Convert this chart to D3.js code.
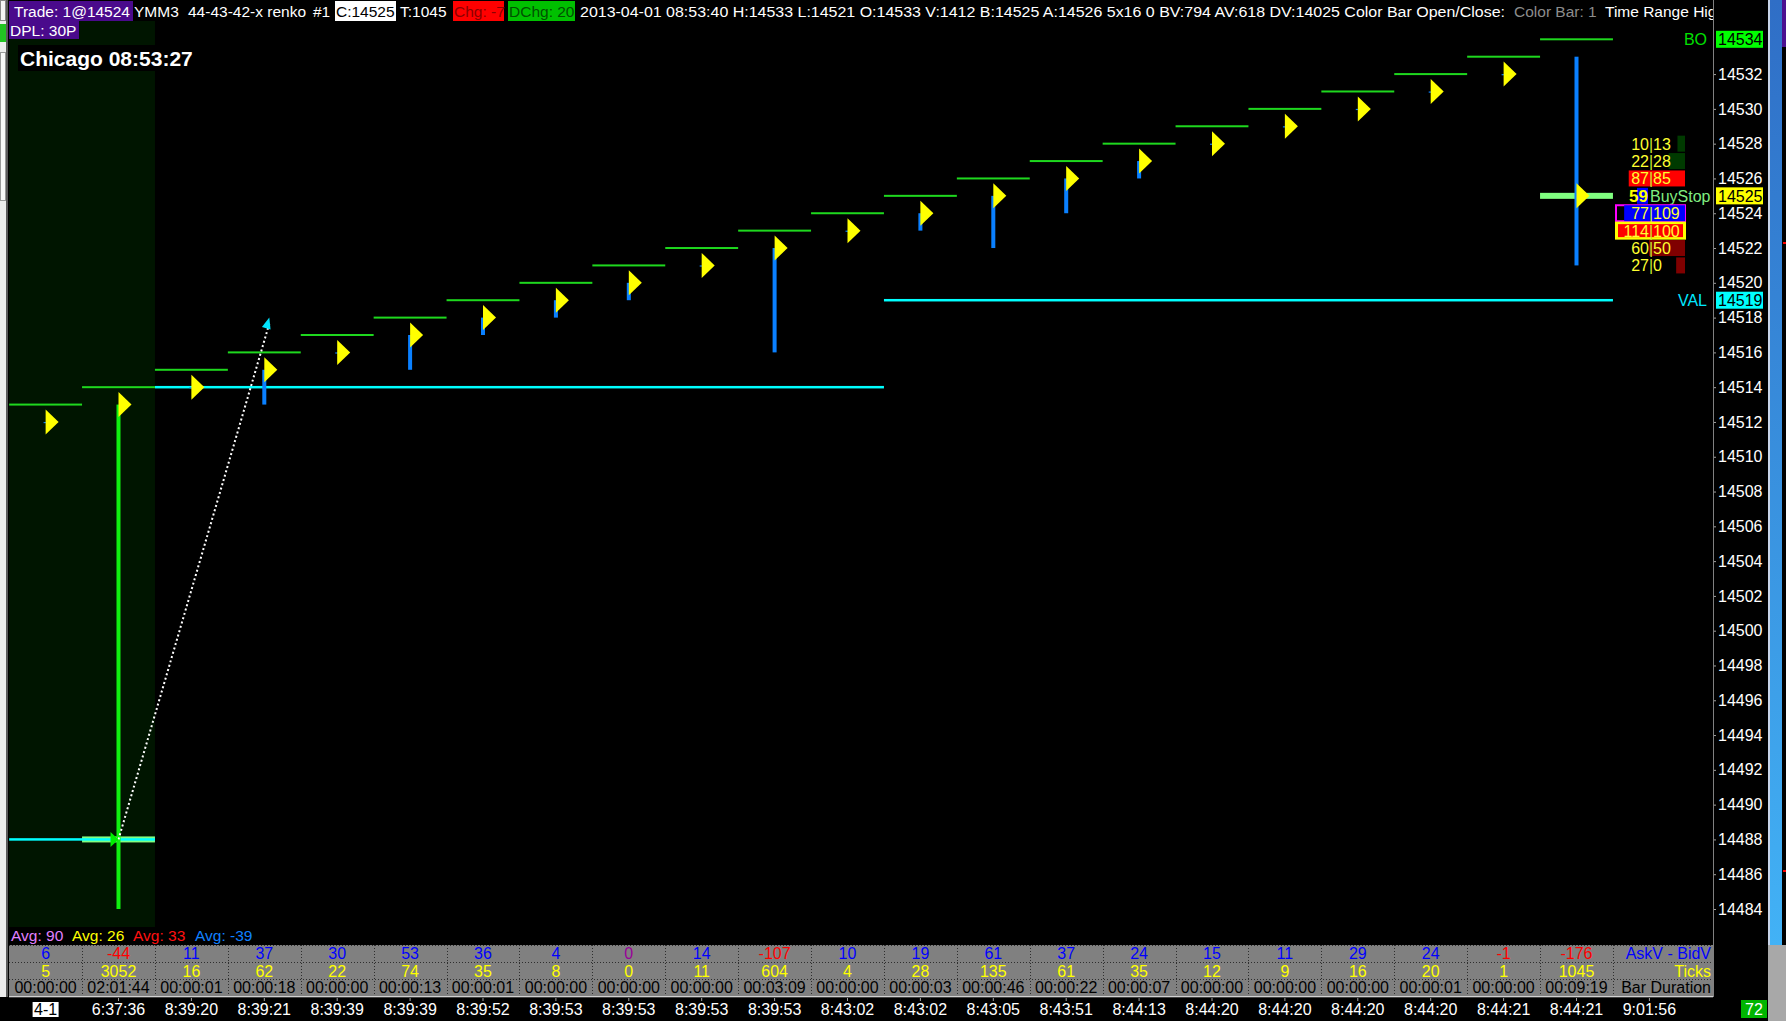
<!DOCTYPE html>
<html><head><meta charset="utf-8">
<script src="https://cdn.jsdelivr.net/npm/d3@7"></script>
<style>
html,body{margin:0;padding:0;background:#000;overflow:hidden}
svg{display:block}
text{font-family:"Liberation Sans",Arial,Helvetica,sans-serif}
</style></head>
<body><svg id="c" width="1786" height="1021"></svg>
<script>
// ---------------- DATA ----------------
const barLine   = [14513,14514,14515,14516,14517,14518,14519,14520,14521,14522,14523,14524,14525,14526,14527,14528,14529,14530,14531,14532,14533,14534];
const barClose  = [14512,14513,14514,14515,14516,14517,14518,14519,14520,14521,14522,14523,14524,14525,14526,14527,14528,14529,14530,14531,14532,14525];
const wickHigh  = [14512,14513,14514,14515,14516,14517,14518,14519,14520,14521,14522,14523,14524,14525,14526,14527,14528,14529,14530,14531,14532,14533];
const wickLow   = [14512,14484,14514,14513,14516,14515,14517,14518,14519,14521,14516,14523,14523,14522,14524,14526,14528,14529,14530,14531,14532,14521];
const sessionBar = 1;

const askBid    = [6,-44,11,37,30,53,36,4,0,14,-107,10,19,61,37,24,15,11,29,24,-1,-176];
const tickCount = [5,3052,16,62,22,74,35,8,0,11,604,4,28,135,61,35,12,9,16,20,1,1045];
const durations = ["00:00:00","02:01:44","00:00:01","00:00:18","00:00:00","00:00:13","00:00:01","00:00:00","00:00:00","00:00:00","00:03:09","00:00:00","00:00:03","00:00:46","00:00:22","00:00:07","00:00:00","00:00:00","00:00:00","00:00:01","00:00:00","00:09:19"];
const rowLabels = ["AskV - BidV","Ticks","Bar Duration"];
const timeLabels = ["4-1","6:37:36","8:39:20","8:39:21","8:39:39","8:39:39","8:39:52","8:39:53","8:39:53","8:39:53","8:39:53","8:43:02","8:43:02","8:43:05","8:43:51","8:44:13","8:44:20","8:44:20","8:44:20","8:44:20","8:44:21","8:44:21","9:01:56"];

const vaStart = [0,2,12];
const vaEnd   = [1,11,21];
const vaPrice = [14488,14514,14519];

const entryBars  = [1,21];
const entryPrice = [14488,14525];
const tradeFrom = {bar:1, price:14488};
const tradeTo   = {bar:3, price:14518};

const profilePrices = [14528,14527,14526,14525,14524,14523,14522,14521];
const profileBid    = [10,22,87,59,77,114,60,27];
const profileAsk    = [13,28,85,null,109,100,50,0];
const orderLabel = "BuyStop";

const yTicks = d3.range(14484, 14533, 2);
const priceMarks = [{label:"BO", price:14534},{label:"", price:14525},{label:"VAL", price:14519}];
const avgLabels = ["Avg: 90","Avg: 26","Avg: 33","Avg: -39"];

const headerTexts = ["Trade: 1@14524","YMM3","44-43-42-x renko","#1","C:14525","T:1045","Chg: -7","DChg: 20",
  "2013-04-01 08:53:40 H:14533 L:14521 O:14533 V:1412 B:14525 A:14526 5x16 0 BV:794 AV:618 DV:14025 Color Bar Open/Close:",
  "Color Bar: 1","Time Range High"];
const dplText = "DPL: 30P";
const clockText = "Chicago 08:53:27";
const cornerValue = "72";

// ---------------- LAYOUT ----------------
const svg = d3.select('#c');
const AX = 1713;
const x = d3.scaleBand().domain(d3.range(23)).range([9.15, 9.15 + 72.9*23]);
const bw = x.bandwidth();
const cx = i => x(i) + bw/2;
const y = d3.scaleLinear().domain([14484,14534]).range([909,39.3]);

const defs = svg.append('defs');
defs.append('clipPath').attr('id','plotclip').append('rect').attr('x',9).attr('y',0).attr('width',AX-9).attr('height',945);
defs.append('clipPath').attr('id','headclip').append('rect').attr('x',0).attr('y',0).attr('width',AX).attr('height',40);
const lg = defs.append('linearGradient').attr('id','sb').attr('x1',0).attr('y1',0).attr('x2',0).attr('y2',1);
lg.append('stop').attr('offset','0%').attr('stop-color','#2f6ec6');
lg.append('stop').attr('offset','100%').attr('stop-color','#42b2f6');

svg.append('rect').attr('width',1786).attr('height',1021).attr('fill','#000');

// left strip
svg.append('rect').attr('x',0).attr('y',0).attr('width',7).attr('height',997).attr('fill','#ececec');
svg.append('rect').attr('x',6).attr('y',0).attr('width',2).attr('height',997).attr('fill','#5a5a5a');
svg.append('rect').attr('x',0.5).attr('y',0.5).attr('width',5).attr('height',20).attr('fill','#f4f4f4').attr('stroke','#888');
svg.append('rect').attr('x',0).attr('y',24).attr('width',6).attr('height',18).attr('fill','#22c422');
svg.append('rect').attr('x',0.5).attr('y',52.5).attr('width',5).attr('height',148).attr('fill','#f8f8f8').attr('stroke','#999');

// session band
svg.append('rect').attr('x',x(0)).attr('y',21).attr('width',x(2)-x(0)).attr('height',906).attr('fill','#001500');

const g = svg.append('g').attr('clip-path','url(#plotclip)');

// entry bands
entryBars.forEach((b,k)=>{
  g.append('rect').attr('x',x(b)).attr('width',bw).attr('y',y(entryPrice[k])-3).attr('height',6).attr('fill','#80ff80');
});
// value area / level lines
vaPrice.forEach((p,k)=>{
  g.append('rect').attr('x',x(vaStart[k])).attr('width',x(vaEnd[k])+bw-x(vaStart[k]))
   .attr('y',y(p)-1.25).attr('height',2.5).attr('fill','#00ffff');
});
// bar open lines
g.selectAll('.bl').data(barLine).join('rect').attr('class','bl')
  .attr('x',(d,i)=>x(i)).attr('width',bw).attr('y',d=>y(d)-1).attr('height',2).attr('fill','#1ed81e');
// wicks
g.selectAll('.wk').data(wickHigh).join('rect').attr('class','wk')
  .attr('x',(d,i)=>cx(i)-2).attr('width',4)
  .attr('y',(d,i)=>y(d)).attr('height',(d,i)=>Math.max(1.2, y(wickLow[i])-y(d)))
  .attr('fill',(d,i)=> i===sessionBar ? '#10f010' : '#0a80ff');
// trade dotted line
const p0 = [cx(tradeFrom.bar), y(tradeFrom.price)];
const p1 = [cx(tradeTo.bar)+5, y(tradeTo.price)];
g.append('line').attr('x1',p0[0]).attr('y1',p0[1]).attr('x2',p1[0]).attr('y2',p1[1]+6)
  .attr('stroke','#fff').attr('stroke-width',2).attr('stroke-dasharray','2,2.5');
{
  const dx=p1[0]-p0[0], dy=p1[1]-p0[1], L=Math.hypot(dx,dy), ux=dx/L, uy=dy/L;
  const bx=p1[0]-ux*11, by=p1[1]-uy*11;
  g.append('path').attr('d',`M${p1[0]},${p1[1]} L${bx-uy*4.5},${by+ux*4.5} L${bx+uy*4.5},${by-ux*4.5} Z`).attr('fill','#00e5ff');
}
// close arrows
g.selectAll('.ar').data(barClose).join('path').attr('class','ar')
  .attr('d',(d,i)=>{const X=cx(i), Y=y(d); return `M${X},${Y-12.5} L${X+13},${Y} L${X},${Y+12.5} Z`;})
  .attr('fill','#ffff00');
// entry triangle
{
  const X=cx(entryBars[0]), Y=y(entryPrice[0]);
  g.append('path').attr('d',`M${X-8},${Y-7.5} L${X},${Y} L${X-8},${Y+7.5} Z`).attr('fill','#00ee00');
}

// clock label
svg.append('rect').attr('x',18).attr('y',45).attr('width',180).attr('height',26).attr('fill','#000');
svg.append('text').attr('x',20).attr('y',66).attr('fill','#fff').attr('font-weight','bold').attr('font-size',21).text(clockText);

// profile
const pw = d3.scaleLinear().domain([0,214]).range([0,70]);
const PR = 1685;
const profileFill = ['#003a00','#003a00','#ff0000',null,'#0000ff','#ff0000','#800000','#800000'];
const pg = svg.append('g');
profilePrices.forEach((p,k)=>{
  const Y = y(p);
  if (k===4) {
    pg.append('rect').attr('x',1616).attr('y',Y-8).attr('width',69).attr('height',16).attr('fill','#000').attr('stroke','#ff00ff').attr('stroke-width',2);
  }
  if (k===5) {
    pg.append('rect').attr('x',1615).attr('y',Y-9).attr('width',71).attr('height',18).attr('fill','#ffff00');
    pg.append('rect').attr('x',1618).attr('y',Y-6.5).attr('width',65).attr('height',13).attr('fill','#ff0000');
  }
  if (profileAsk[k] === null) {
    pg.append('rect').attr('x',1637).attr('y',Y-8).attr('width',11).attr('height',16).attr('fill','#0000ff');
    pg.append('text').attr('x',1648).attr('y',Y+6).attr('text-anchor','end').attr('font-size',17).attr('font-weight','bold').attr('fill','#ffff00').text(profileBid[k]);
    pg.append('text').attr('x',1650).attr('y',Y+6).attr('font-size',16).attr('fill','#80ee80').text(orderLabel);
    return;
  }
  const w = pw(profileBid[k]+profileAsk[k]);
  if (k!==5) pg.append('rect').attr('x',PR-w).attr('y',Y-8).attr('width',w).attr('height',16).attr('fill',profileFill[k]);
  pg.append('text').attr('x',1649).attr('y',Y+6).attr('text-anchor','end').attr('font-size',16).attr('fill','#ffff30').text(profileBid[k]);
  pg.append('text').attr('x',1651).attr('y',Y+6).attr('text-anchor','middle').attr('font-size',16).attr('fill','#c8e830').text('|');
  pg.append('text').attr('x',1653).attr('y',Y+6).attr('font-size',16).attr('fill','#ffff30').text(profileAsk[k]);
});

// y axis
const ya = svg.append('g').attr('transform',`translate(${AX},0)`)
  .call(d3.axisRight(y).tickValues(yTicks).tickSize(3).tickPadding(2).tickFormat(d3.format('d')));
ya.select('.domain').remove();
ya.selectAll('line').attr('stroke','#a0a0a0');
ya.selectAll('text').attr('fill','#fff').attr('font-size',16).attr('font-family','"Liberation Sans",Arial,sans-serif');
svg.append('line').attr('x1',AX+0.5).attr('x2',AX+0.5).attr('y1',0).attr('y2',997).attr('stroke','#808080');

const markFill = ['#00ff00','#ffff00','#00ffff'];
const markText = ['#00e000',null,'#00e8ff'];
priceMarks.forEach((m,k)=>{
  const Y=y(m.price);
  svg.append('rect').attr('x',AX+3).attr('y',Y-8.5).attr('width',47).attr('height',17).attr('fill',markFill[k]);
  svg.append('text').attr('x',AX+5).attr('y',Y+6).attr('font-size',16).attr('fill','#000').text(m.price);
  if (m.label) svg.append('text').attr('x',AX-6).attr('y',Y+6).attr('text-anchor','end').attr('font-size',16).attr('fill',markText[k]).text(m.label);
});

// header
const hg = svg.append('g').attr('clip-path','url(#headclip)');
const hx  = [14,134,188,313,336,400,454,509,580,1514,1605];
const hc  = ['#fff','#fff','#fff','#fff','#000','#fff','#8b0000','#005200','#fff','#8c8c8c','#fff'];
const hbg = {0:['#4a0a8c',9,124],4:['#fff',335,61],6:['#ff0000',453,51],7:['#00c000',508,67]};
headerTexts.forEach((t,i)=>{
  if (hbg[i]) hg.append('rect').attr('x',hbg[i][1]).attr('y',1).attr('width',hbg[i][2]).attr('height',20).attr('fill',hbg[i][0]);
  const tx = hg.append('text').attr('x',hx[i]).attr('y',16.5).attr('font-size',15.5).attr('fill',hc[i]).text(t);
  if (i===8) tx.attr('textLength',925).attr('lengthAdjust','spacingAndGlyphs');
});
svg.append('rect').attr('x',9).attr('y',21).attr('width',70).attr('height',18).attr('fill','#4a0a8c');
svg.append('text').attr('x',10).attr('y',35.5).attr('font-size',15.5).attr('fill','#fff').text(dplText);

// avg labels
const avgX = [11,72,133,195];
const avgC = ['#e080ff','#ffff00','#ff1010','#1080ff'];
avgLabels.forEach((t,i)=> svg.append('text').attr('x',avgX[i]).attr('y',941).attr('font-size',15.5).attr('fill',avgC[i]).text(t));

// table
const tg = svg.append('g');
tg.append('rect').attr('x',9).attr('y',945).attr('width',AX-9).attr('height',51).attr('fill','#808080');
[945.5,962.5,979.5].forEach(Y=> tg.append('line').attr('x1',9).attr('x2',AX).attr('y1',Y).attr('y2',Y).attr('stroke','#2e2e2e').attr('stroke-dasharray','1,2'));
d3.range(1,23).forEach(k=> tg.append('line').attr('x1',Math.round(x(k))+0.5).attr('x2',Math.round(x(k))+0.5).attr('y1',945).attr('y2',996).attr('stroke','#2e2e2e').attr('stroke-dasharray','1,2'));
tg.append('line').attr('x1',9).attr('x2',AX).attr('y1',996.5).attr('y2',996.5).attr('stroke','#d0d0d0');
tg.append('line').attr('x1',9).attr('x2',AX).attr('y1',997.5).attr('y2',997.5).attr('stroke','#404040');
const rowY = [959,977,993];
askBid.forEach((v,i)=> tg.append('text').attr('x',cx(i)).attr('y',rowY[0]).attr('text-anchor','middle').attr('font-size',16)
   .attr('fill', v>0 ? '#0000ff' : (v<0 ? '#ff0000' : '#990099')).text(v));
tickCount.forEach((v,i)=> tg.append('text').attr('x',cx(i)).attr('y',rowY[1]).attr('text-anchor','middle').attr('font-size',16).attr('fill','#ffff00').text(v));
durations.forEach((v,i)=> tg.append('text').attr('x',cx(i)).attr('y',rowY[2]).attr('text-anchor','middle').attr('font-size',16).attr('fill','#000').text(v));
const labC = ['#0000ff','#ffff00','#000'];
rowLabels.forEach((t,k)=> tg.append('text').attr('x',AX-2).attr('y',rowY[k]).attr('text-anchor','end').attr('font-size',16).attr('fill',labC[k]).text(t));

// time axis
const xa = svg.append('g').attr('transform','translate(0,998)')
  .call(d3.axisBottom(x).tickFormat(i=>timeLabels[i]).tickSize(3).tickPadding(3));
xa.select('.domain').remove();
xa.selectAll('line').attr('stroke','#a0a0a0');
xa.selectAll('text').attr('fill','#fff').attr('font-size',16).attr('font-family','"Liberation Sans",Arial,sans-serif');
xa.selectAll('.tick').filter(d=>d===0).each(function(){
  const t=d3.select(this);
  t.select('line').remove();
  t.insert('rect','text').attr('x',-13).attr('y',4).attr('width',26).attr('height',15).attr('fill','#fff');
  t.select('text').attr('fill','#000');
});

// right decor
svg.append('rect').attr('x',1768).attr('y',0).attr('width',2).attr('height',945).attr('fill','#c8d4e8');
svg.append('rect').attr('x',1770).attr('y',0).attr('width',12).attr('height',945).attr('fill','url(#sb)');
svg.append('rect').attr('x',1768).attr('y',945).attr('width',18).attr('height',76).attr('fill','#a8a8a8');
svg.append('rect').attr('x',1782).attr('y',0).attr('width',4).attr('height',47).attr('fill','#4b1090');
svg.append('rect').attr('x',1783).attr('y',242).attr('width',3).attr('height',2).attr('fill','#ff0000');
svg.append('rect').attr('x',1783).attr('y',870).attr('width',3).attr('height',2).attr('fill','#ff0000');
svg.append('rect').attr('x',1741).attr('y',1000).attr('width',26).attr('height',18).attr('fill','#00b400');
svg.append('text').attr('x',1754).attr('y',1015).attr('text-anchor','middle').attr('font-size',16).attr('fill','#fff').text(cornerValue);
</script></body></html>
